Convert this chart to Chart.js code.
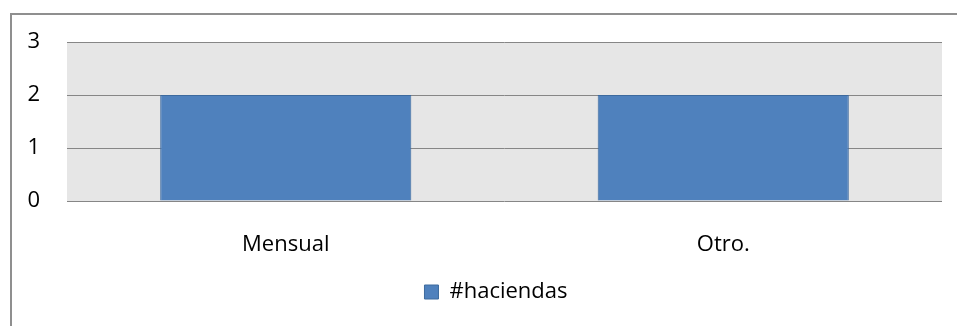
<!DOCTYPE html>
<html>
<head>
<meta charset="utf-8">
<script src="https://cdn.jsdelivr.net/npm/chart.js@4/dist/chart.umd.min.js"></script>
<style>
html,body{margin:0;padding:0;background:#fff;}
#c{display:block;}
</style>
</head>
<body>
<canvas id="c" width="957" height="326"></canvas>
<script>
const categories = ["Mensual", "Otro."];
const seriesName = "#haciendas";
const haciendas = [2, 2];
const yTicks = [0, 1, 2, 3];

const frame = {
  id: 'frame',
  afterLayout(chart) {
    if (chart.legend) { chart.legend.left += 25; chart.legend.right += 25; }
  },
  beforeDraw(chart) {
    const ctx = chart.ctx, a = chart.chartArea;
    ctx.save();
    ctx.fillStyle = '#ffffff';
    ctx.fillRect(0, 0, chart.width, chart.height);
    ctx.fillStyle = '#e6e6e6';
    ctx.fillRect(a.left, a.top, a.right - a.left, a.bottom - a.top);
    ctx.strokeStyle = '#8f8f8f';
    ctx.lineWidth = 2;
    ctx.strokeRect(11, 14, chart.width + 10, chart.height + 10);
    ctx.restore();
  }
};

new Chart(document.getElementById('c'), {
  type: 'bar',
  data: {
    labels: categories,
    datasets: [{
      label: seriesName,
      data: haciendas,
      backgroundColor: '#4f81bd',
      borderColor: '#3d6a9e',
      borderWidth: 1,
      categoryPercentage: 1,
      barPercentage: 0.574
    }]
  },
  options: {
    responsive: false,
    animation: false,
    layout: { padding: { top: 42, right: 15, bottom: 13, left: 0 } },
    font: { family: "'Open Sans', sans-serif", size: 22 },
    plugins: {
      legend: {
        position: 'bottom',
        labels: {
          color: '#000',
          boxWidth: 14, boxHeight: 14,
          padding: 10,
          font: { family: "'Open Sans', sans-serif", size: 22 }
        }
      },
      tooltip: { enabled: false }
    },
    scales: {
      x: {
        grid: { display: false },
        border: { display: false },
        ticks: { color: '#000', padding: 23, font: { family: "'Open Sans', sans-serif", size: 22 } },
        afterFit(s) { s.height = 70; }
      },
      y: {
        min: 0, max: 3,
        afterBuildTicks(s) { s.ticks = yTicks.map(v => ({ value: v })); },
        grid: { color: '#868686', lineWidth: 1, drawTicks: false },
        border: { display: false },
        ticks: { color: '#000', padding: 27, font: { family: "'Open Sans', sans-serif", size: 22 } },
        afterFit(s) { s.width = 67; }
      }
    }
  },
  plugins: [frame]
});
</script>
</body>
</html>
